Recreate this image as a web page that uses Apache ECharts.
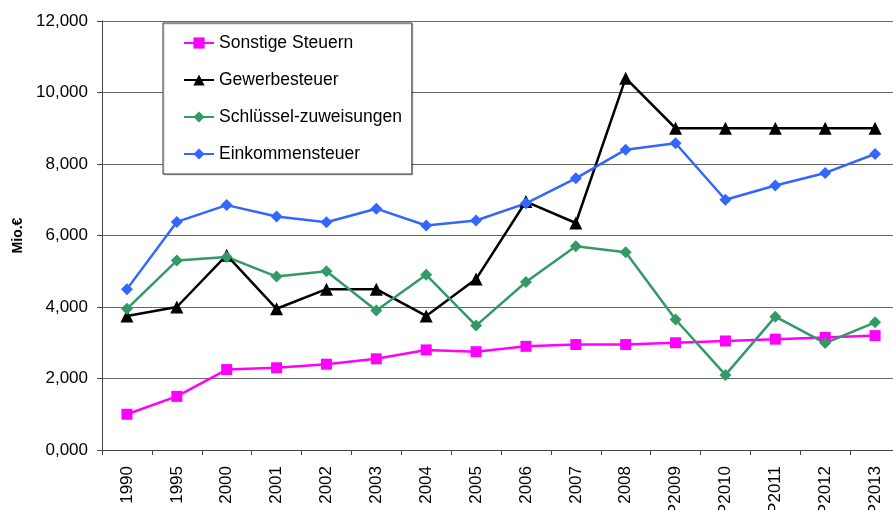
<!DOCTYPE html>
<html>
<head>
<meta charset="utf-8">
<script src="https://cdn.jsdelivr.net/npm/echarts@6/dist/echarts.min.js"></script>
<style>
html,body{margin:0;padding:0;background:#fff;}
#container{width:893px;height:510px;}
</style>
</head>
<body>
<div id="container"></div>
<script>
var years = ['1990','1995','2000','2001','2002','2003','2004','2005','2006','2007','2008','P2009','P2010','P2011','P2012','P2013'];
var sonstige = [1000,1500,2250,2300,2400,2550,2800,2750,2900,2950,2950,3000,3050,3100,3150,3200];
var gewerbe = [3750,4000,5450,3950,4500,4500,3750,4780,6950,6350,10400,9000,9000,9000,9000,9000];
var schluessel = [3950,5300,5400,4850,5000,3900,4900,3480,4700,5700,5530,3650,2100,3730,2990,3570];
var einkommen = [4500,6380,6850,6530,6370,6750,6280,6420,6900,7600,8400,8580,7000,7400,7750,8280];

var dom = document.getElementById("container");
var myChart = echarts.init(dom);

function serie(name, data, color, symbol, size){
    return {
        name: name,
        type: 'line',
        data: data,
        color: color,
        symbol: symbol,
        symbolSize: size,
        lineStyle: {width: 2.5, color: color},
        itemStyle: {color: color},
        emphasis: {disabled: true}
    };
}

var option = {
    animation: false,
    textStyle: {fontFamily: 'Liberation Sans, Arial, sans-serif'},
    grid: {left: 102, right: -7, top: 21, bottom: 60, containLabel: false, outerBoundsMode: 'none'},
    legend: {
        orient: 'vertical',
        left: 163,
        top: 23,
        padding: [11, 10, 11, 20],
        itemGap: 19,
        itemWidth: 30,
        itemHeight: 14,
        backgroundColor: '#fff',
        borderColor: '#333',
        borderWidth: 1,
        shadowColor: 'rgba(0,0,0,0.2)',
        shadowOffsetX: 1,
        shadowOffsetY: 1,
        textStyle: {fontSize: 17.5, color: '#000', fontFamily: 'Liberation Sans, Arial, sans-serif'},
        data: ['Sonstige Steuern', 'Gewerbesteuer', 'Schlüssel-zuweisungen', 'Einkommensteuer']
    },
    xAxis: {
        type: 'category',
        data: years,
        boundaryGap: true,
        axisLine: {lineStyle: {color: '#444', width: 1}},
        axisTick: {show: true, length: 5, lineStyle: {color: '#444'}},
        axisLabel: {rotate: 90, fontSize: 17, color: '#000', margin: 16, interval: 0}
    },
    yAxis: {
        type: 'value',
        min: 0,
        max: 12000,
        interval: 2000,
        name: 'Mio.€',
        nameLocation: 'middle',
        nameGap: 74,
        nameTextStyle: {fontSize: 14, fontWeight: 'bold', color: '#000'},
        axisLine: {show: true, lineStyle: {color: '#444', width: 1}},
        axisTick: {show: true, length: 5, lineStyle: {color: '#444'}},
        splitLine: {lineStyle: {color: '#666', width: 1}},
        axisLabel: {
            fontSize: 17, color: '#000', margin: 14,
            formatter: function(v){ return (v / 1000) + ',000'; }
        }
    },
    series: [
        serie('Sonstige Steuern', sonstige, '#ff00ff', 'rect', 11),
        serie('Gewerbesteuer', gewerbe, '#000000', 'triangle', 13),
        serie('Schlüssel-zuweisungen', schluessel, '#339966', 'diamond', 12),
        serie('Einkommensteuer', einkommen, '#3366ff', 'diamond', 12)
    ]
};

myChart.setOption(option, true);
</script>
</body>
</html>
